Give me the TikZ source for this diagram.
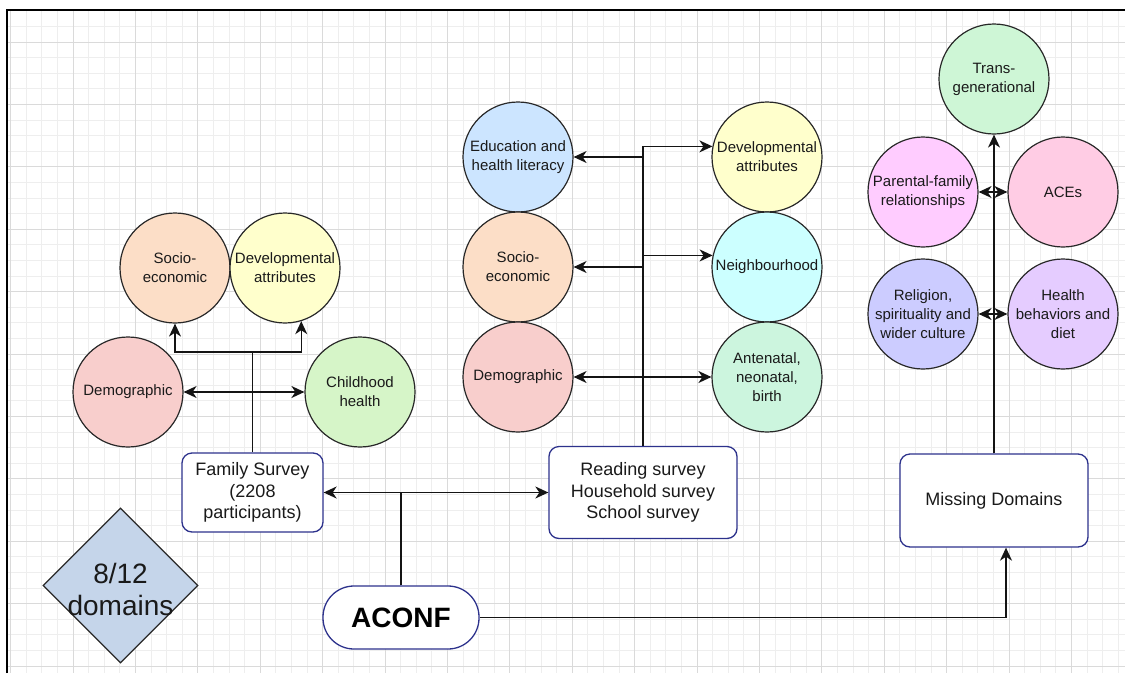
\documentclass[tikz,border=0pt]{standalone}
\usepackage{fontspec}
\setmainfont{Liberation Sans}
\usetikzlibrary{shapes.geometric,arrows.meta}
\definecolor{gminor}{RGB}{238,238,238}
\definecolor{gmajor}{RGB}{218,218,218}
\definecolor{cstroke}{RGB}{40,40,40}
\definecolor{lnk}{RGB}{20,20,20}
\definecolor{navy}{RGB}{45,50,140}
\definecolor{cpeach}{RGB}{252,222,199}
\definecolor{cyellow}{RGB}{255,255,204}
\definecolor{cred}{RGB}{248,206,204}
\definecolor{cgreen}{RGB}{214,245,200}
\definecolor{cblue}{RGB}{204,229,255}
\definecolor{ccyan}{RGB}{204,255,255}
\definecolor{cmint}{RGB}{204,245,222}
\definecolor{ctrans}{RGB}{206,246,214}
\definecolor{cmagenta}{RGB}{255,204,255}
\definecolor{cpink}{RGB}{255,204,228}
\definecolor{clav}{RGB}{204,204,255}
\definecolor{cpurple}{RGB}{229,204,255}
\definecolor{cdiamond}{RGB}{197,213,234}
\definecolor{txt}{RGB}{26,26,26}
\begin{document}
\begin{tikzpicture}[x=1pt,y=-1pt,
  dombox/.style={circle, draw=cstroke, line width=1.2pt, minimum size=110pt, inner sep=0pt,
    align=center, text=txt, font=\fontsize{15}{19}\selectfont},
  survey/.style={rectangle, rounded corners=10pt, draw=navy, line width=1.3pt, fill=white,
    align=center, text=txt, font=\fontsize{18}{21.5}\selectfont, inner sep=0pt},
  conn/.style={draw=lnk, line width=1.4pt},
  mytip/.tip={Stealth[length=13pt,width=12pt,inset=4pt]},
  gridminor/.style={draw=gminor, line width=0.8pt},
  gridmajor/.style={draw=gmajor, line width=1pt}]
\useasboundingbox (0,0) rectangle (1125,673);
\fill[white] (0,0) rectangle (1125,673);
% grid
\foreach \i in {0,...,71} {
  \pgfmathsetmacro\gx{10.6+15.6*\i}
  \draw[gridminor] (\gx,10) -- (\gx,673);
}
\foreach \i in {0,...,42} {
  \pgfmathsetmacro\gy{10.8+15.6*\i}
  \draw[gridminor] (7,\gy) -- (1125,\gy);
}
\foreach \i in {0,...,17} {
  \pgfmathsetmacro\gx{10.6+62.4*\i}
  \draw[gridmajor] (\gx,10) -- (\gx,673);
}
\foreach \i in {0,...,10} {
  \pgfmathsetmacro\gy{42+62.4*\i}
  \draw[gridmajor] (7,\gy) -- (1125,\gy);
}
% frame
\draw[black, line width=2pt] (7,673) -- (7,10) -- (1125,10);

% left group
\node[dombox, fill=cpeach] (lsoc) at (175,268) {Socio-\\economic};
\node[dombox, fill=cyellow] (ldev) at (285,268) {Developmental\\attributes};
\node[dombox, fill=cred] (ldemo) at (128,392) {Demographic};
\node[dombox, fill=cgreen] (lchild) at (360,392) {Childhood\\health};

% middle group
\node[dombox, fill=cblue] (medu) at (518,157) {Education and\\health literacy};
\node[dombox, fill=cpeach] (msoc) at (518,267) {Socio-\\economic};
\node[dombox, fill=cred] (mdemo) at (518,377) {Demographic};
\node[dombox, fill=cyellow] (mdev) at (767,157) {Developmental\\attributes};
\node[dombox, fill=ccyan] (mneigh) at (767,267) {Neighbourhood};
\node[dombox, fill=cmint] (mante) at (767,377) {Antenatal,\\neonatal,\\birth};

% right group
\node[dombox, fill=ctrans] (trans) at (994,79) {Trans-\\generational};
\node[dombox, fill=cmagenta] (par) at (923,192) {Parental-family\\relationships};
\node[dombox, fill=cpink] (aces) at (1063,192) {ACEs};
\node[dombox, fill=clav] (rel) at (923,314) {Religion,\\spirituality and\\wider culture};
\node[dombox, fill=cpurple] (health) at (1063,314) {Health\\behaviors and\\diet};

% boxes
\node[survey, minimum width=141pt, minimum height=79pt] (fam) at (252.5,492.5) {Family Survey\\(2208\\participants)};
\node[survey, minimum width=188pt, minimum height=92pt] (read) at (643,492.5) {Reading survey\\Household survey\\School survey};
\node[survey, minimum width=188pt, minimum height=93pt] (miss) at (994,500.5) {Missing Domains};
\node[survey, rounded corners=31pt, minimum width=156pt, minimum height=63pt,
  font=\fontsize{28}{32}\selectfont\bfseries, text=black] (aconf) at (401,617.5) {ACONF};

% diamond
\node[diamond, draw=cstroke, line width=1.2pt, fill=cdiamond, minimum width=155pt,
  minimum height=155pt, inner sep=0pt] (dia) at (120.5,585.5) {};
\node[align=center, text=txt, font=\fontsize{28}{32}\selectfont, inner sep=0pt] (dialbl) at (120.5,589) {8/12\\domains};

% left connectors
\coordinate (lj) at (252.5,352);
\draw[conn] (fam.north) -- (lj);
\draw[conn,-mytip] (lj) -| (lsoc.south);
\draw[conn,-mytip] (lj) -| (ldev.-73);
\draw[conn,mytip-mytip] (ldemo) -- (lchild);

% middle connectors
\draw[conn,-mytip] (read.north) |- (mdev.169.5);
\draw[conn,-mytip] (medu.east -| read.north) -- (medu.east);
\draw[conn,-mytip] (mneigh.168.5 -| read.north) -- (mneigh.168.5);
\draw[conn,-mytip] (msoc.east -| read.north) -- (msoc.east);
\draw[conn,mytip-mytip] (mdemo) -- (mante);

% right connectors
\draw[conn,-mytip] (miss.north) -- (trans.south);
\draw[conn,mytip-mytip] (par) -- (aces);
\draw[conn,mytip-mytip] (rel) -- (health);

% bottom connectors
\coordinate (bj) at (aconf.north |- fam.east);
\draw[conn] (aconf.north) -- (bj);
\draw[conn,mytip-mytip] (fam.east) -- (read.west);
\draw[conn,-mytip] (aconf.east) -| ([xshift=12pt]miss.south);
\end{tikzpicture}
\end{document}
